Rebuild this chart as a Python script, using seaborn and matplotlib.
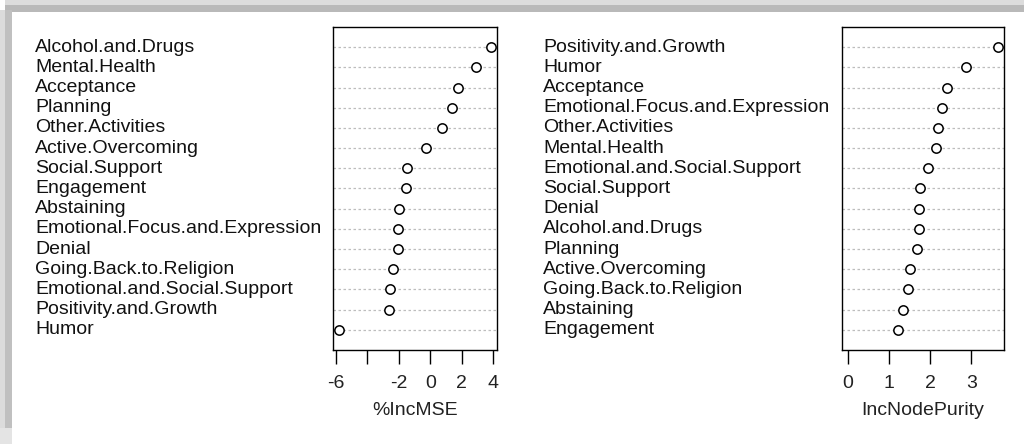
import numpy as np
import pandas as pd
import seaborn as sns
import matplotlib
matplotlib.use("Agg")
import matplotlib.pyplot as plt
from matplotlib.patches import Rectangle
from matplotlib.transforms import blended_transform_factory

# Variable importance, sorted from most to least important
mse_vars = ["Alcohol.and.Drugs", "Mental.Health", "Acceptance", "Planning",
            "Other.Activities", "Active.Overcoming", "Social.Support", "Engagement",
            "Abstaining", "Emotional.Focus.and.Expression", "Denial",
            "Going.Back.to.Religion", "Emotional.and.Social.Support",
            "Positivity.and.Growth", "Humor"]
mse_vals = [3.84, 2.87, 1.76, 1.40, 0.76, -0.30, -1.49, -1.55,
            -1.96, -2.02, -2.04, -2.36, -2.53, -2.59, -5.78]

purity_vars = ["Positivity.and.Growth", "Humor", "Acceptance",
               "Emotional.Focus.and.Expression", "Other.Activities", "Mental.Health",
               "Emotional.and.Social.Support", "Social.Support", "Denial",
               "Alcohol.and.Drugs", "Planning", "Active.Overcoming",
               "Going.Back.to.Religion", "Abstaining", "Engagement"]
purity_vals = [3.65, 2.87, 2.42, 2.29, 2.18, 2.15, 1.94, 1.76, 1.73,
               1.72, 1.69, 1.51, 1.46, 1.34, 1.21]

mse_ticks = [-6, -4, -2, 0, 2, 4]
mse_ticklabels = ["-6", "", "-2", "0", "2", "4"]
purity_ticks = [0, 1, 2, 3]
purity_ticklabels = ["0", "1", "2", "3"]

sns.set_theme(style="white")
plt.rcParams["font.family"] = ["Liberation Sans", "DejaVu Sans"]
FS = 14

fig = plt.figure(figsize=(10.24, 4.44), dpi=100)
fig.patch.set_facecolor("white")

# soft shadow along the top and left edges
fig.patches.append(Rectangle((5 / 1024, 1 - 5 / 444), 1, 5 / 444, transform=fig.transFigure,
                             facecolor="#dcdcdc", edgecolor="none", zorder=0))
fig.patches.append(Rectangle((5 / 1024, 1 - 12 / 444), 1, 7 / 444, transform=fig.transFigure,
                             facecolor="#b9b9b9", edgecolor="none", zorder=0))
fig.patches.append(Rectangle((0, 0), 5 / 1024, 1 - 10 / 444, transform=fig.transFigure,
                             facecolor="#dcdcdc", edgecolor="none", zorder=0))
fig.patches.append(Rectangle((5 / 1024, 0), 7 / 1024, 1 - 10 / 444, transform=fig.transFigure,
                             facecolor="#c0c0c0", edgecolor="none", zorder=0))
fig.patches.append(Rectangle((0, 0), 12 / 1024, 16 / 444, transform=fig.transFigure,
                             facecolor="#e4e4e4", edgecolor="none", zorder=0))

bottom = (444 - 350) / 444
height = (350 - 27) / 444


def dotchart(ax, names, values, ticks, ticklabels, xlabel, label_x, xmin=None):
    n = len(names)
    df = pd.DataFrame({"var": names, "imp": values, "pos": np.arange(n, 0, -1)})
    lo = df["imp"].min() if xmin is None else xmin
    hi = df["imp"].max()
    ext = 0.04 * (hi - lo)
    for p in df["pos"]:
        ax.axhline(p, color="#bdbdbd", linestyle=(0, (2, 2)), linewidth=0.9, zorder=1)
    sns.scatterplot(data=df, x="imp", y="pos", ax=ax, marker="o", s=45,
                    facecolor="white", edgecolor="black", linewidth=1.1, zorder=3,
                    legend=False)
    ax.set_xlim(lo - ext, hi + ext)
    ax.set_ylim(0, n + 1)
    ax.set_yticks([])
    ax.set_ylabel("")
    ax.set_xticks(ticks)
    ax.set_xticklabels(ticklabels, fontsize=FS)
    ax.tick_params(axis="x", direction="out", length=10, width=1, color="black",
                   pad=8, bottom=True, labelcolor="#222222")
    ax.set_xlabel(xlabel, fontsize=FS, labelpad=7, color="#222222")
    for s in ax.spines.values():
        s.set_visible(True)
        s.set_color("black")
        s.set_linewidth(1.0)
    tr = blended_transform_factory(fig.transFigure, ax.transData)
    for name, p in zip(df["var"], df["pos"]):
        ax.text(label_x, p, name, transform=tr, ha="left", va="center",
                fontsize=FS, color="#111111")


ax1 = fig.add_axes([333 / 1024, bottom, 164 / 1024, height])
dotchart(ax1, mse_vars, mse_vals, mse_ticks, mse_ticklabels, "%IncMSE", 35 / 1024)

ax2 = fig.add_axes([842 / 1024, bottom, 162 / 1024, height])
dotchart(ax2, purity_vars, purity_vals, purity_ticks, purity_ticklabels,
         "IncNodePurity", 543 / 1024, xmin=0)

fig.savefig("out.png", dpi=100, facecolor="white")
